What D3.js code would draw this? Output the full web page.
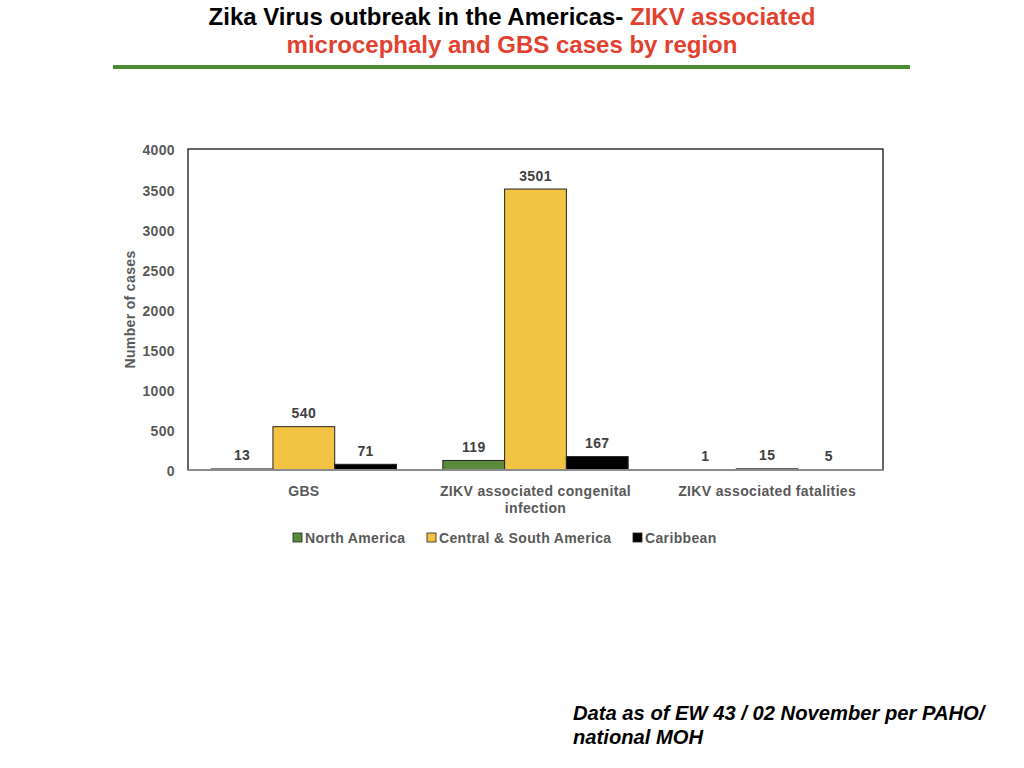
<!DOCTYPE html>
<html><head><meta charset="utf-8">
<script src="https://cdn.jsdelivr.net/npm/d3@7"></script>
<style>body{margin:0;background:#fff}svg{display:block}</style>
</head><body>
<svg id="c" width="1024" height="768"></svg>
<script>
const categories = [["GBS"], ["ZIKV associated congenital", "infection"], ["ZIKV associated fatalities"]];
const seriesNames = ["North America", "Central & South America", "Caribbean"];
const northAmerica = [13, 119, 1];
const centralSouth = [540, 3501, 15];
const caribbean = [71, 167, 5];
const yTicks = [0, 500, 1000, 1500, 2000, 2500, 3000, 3500, 4000];
const colors = ["#5b8a3a", "#f3c343", "#000000"];
const values = [northAmerica, centralSouth, caribbean];

const svg = d3.select("#c");
const L = 188, R = 883, T = 149, B = 470;
const font = "'Liberation Sans', Arial, sans-serif";
const narrow = "'Liberation Sans Narrow', 'Liberation Sans', Arial, sans-serif";
const fs = 14, ls = 0.35;

// title
const t1 = svg.append("text").attr("x", 512).attr("y", 25).attr("text-anchor", "middle")
  .attr("font-family", narrow).attr("font-weight", "bold").attr("font-size", 24);
t1.append("tspan").attr("fill", "#000").text("Zika Virus outbreak in the Americas- ");
t1.append("tspan").attr("fill", "#e2412f").text("ZIKV associated");
svg.append("text").attr("x", 512).attr("y", 53).attr("text-anchor", "middle")
  .attr("font-family", narrow).attr("font-weight", "bold").attr("font-size", 24)
  .attr("fill", "#e2412f").text("microcephaly and GBS cases by region");
svg.append("rect").attr("x", 113).attr("y", 65).attr("width", 797).attr("height", 4).attr("fill", "#4a8c32");

const x0 = d3.scaleBand().domain(d3.range(categories.length)).range([L, R]).paddingInner(0.2).paddingOuter(0.1);
const x1 = d3.scaleBand().domain(d3.range(seriesNames.length)).range([0, x0.bandwidth()]);
const y = d3.scaleLinear().domain([0, 4000]).range([B, T]);

// frame
svg.append("rect").attr("x", L).attr("y", T).attr("width", R - L).attr("height", B - T)
  .attr("fill", "none").attr("stroke", "#000").attr("stroke-width", 1.2);

// y axis
const yAxis = svg.append("g").attr("transform", `translate(${L},1.5)`)
  .call(d3.axisLeft(y).tickValues(yTicks).tickSize(0).tickPadding(13).tickFormat(d3.format("d")));
yAxis.select(".domain").remove();
yAxis.selectAll("text").attr("font-family", font).attr("font-weight", "bold").attr("font-size", fs)
  .attr("letter-spacing", ls).attr("fill", "#595959");

svg.append("text").attr("transform", `translate(135,${(T + B) / 2}) rotate(-90)`)
  .attr("text-anchor", "middle").attr("font-family", font).attr("font-weight", "bold")
  .attr("font-size", fs).attr("letter-spacing", ls).attr("fill", "#595959").text("Number of cases");

// bars
categories.forEach((c, i) => {
  values.forEach((vals, s) => {
    const v = vals[i];
    const bx = x0(i) + x1(s);
    svg.append("rect").attr("x", bx).attr("y", y(v)).attr("width", x1.bandwidth())
      .attr("height", B - y(v)).attr("fill", colors[s]).attr("stroke", "#222").attr("stroke-width", 1);
    svg.append("text").attr("x", bx + x1.bandwidth() / 2).attr("y", y(v) - 8.5)
      .attr("text-anchor", "middle").attr("font-family", font).attr("font-weight", "bold")
      .attr("font-size", fs).attr("letter-spacing", ls).attr("fill", "#404040").text(v);
  });
});

// x axis line
svg.append("line").attr("x1", L).attr("x2", R).attr("y1", B).attr("y2", B).attr("stroke", "#8c8c8c").attr("stroke-width", 2);

// category labels
const xAxis = svg.append("g").attr("transform", `translate(0,${B})`)
  .call(d3.axisBottom(x0).tickSize(0).tickFormat(() => ""));
xAxis.select(".domain").remove();
xAxis.selectAll(".tick text").each(function(d) {
  const el = d3.select(this).attr("y", 0).attr("dy", null)
    .attr("font-family", font).attr("font-weight", "bold").attr("font-size", fs)
    .attr("letter-spacing", ls).attr("fill", "#595959");
  categories[d].forEach((line, k) => {
    el.append("tspan").attr("x", 0).attr("y", 26 + k * 17).text(line);
  });
});

// legend
const legendX = [293, 427, 633];
seriesNames.forEach((n, s) => {
  svg.append("rect").attr("x", legendX[s]).attr("y", 533).attr("width", 9).attr("height", 9)
    .attr("fill", colors[s]).attr("stroke", "#222").attr("stroke-width", 0.8);
  svg.append("text").attr("x", legendX[s] + 12).attr("y", 543).attr("font-family", font)
    .attr("font-weight", "bold").attr("font-size", fs).attr("letter-spacing", ls).attr("fill", "#595959").text(n);
});

// footer
[["Data as of EW 43 / 02 November per PAHO/", 720], ["national MOH", 744]].forEach(([t, yy]) => {
  svg.append("text").attr("x", 573).attr("y", yy).attr("font-family", font).attr("font-weight", "bold")
    .attr("font-style", "italic").attr("font-size", 20.2).attr("fill", "#000").text(t);
});
</script>
</body></html>
